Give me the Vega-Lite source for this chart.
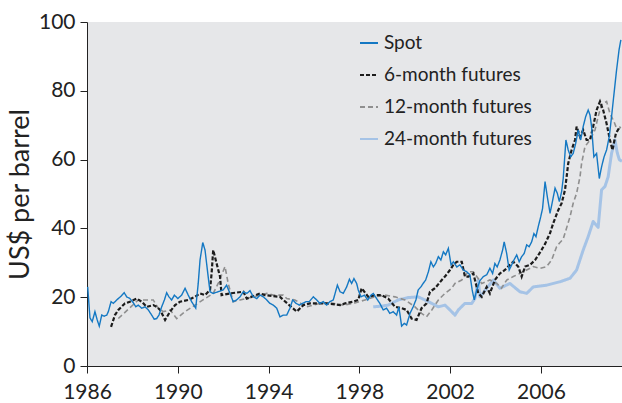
{
  "$schema": "https://vega.github.io/schema/vega-lite/v6.json",
  "width": 535,
  "height": 344,
  "autosize": {"type": "none"},
  "padding": {"left": 87, "top": 22, "right": 0, "bottom": 37},
  "background": "white",
  "config": {
    "view": {"fill": "#e6e7e9", "stroke": null},
    "font": "Lato"
  },
  "datasets": {
    "d24": [
      {"t": 1998.61, "v": 17.2}, {"t": 1998.98, "v": 17.4}, {"t": 1999.27, "v": 17.7}, {"t": 1999.71, "v": 19.2},
      {"t": 2000.15, "v": 19.9}, {"t": 2000.59, "v": 20.1}, {"t": 2000.89, "v": 19.2}, {"t": 2001.19, "v": 18.2},
      {"t": 2001.48, "v": 17.2}, {"t": 2001.77, "v": 17.7}, {"t": 2001.99, "v": 16.3}, {"t": 2002.21, "v": 14.8},
      {"t": 2002.36, "v": 16.3}, {"t": 2002.65, "v": 18.2}, {"t": 2002.95, "v": 18.2}, {"t": 2003.09, "v": 19.6},
      {"t": 2003.24, "v": 25}, {"t": 2003.31, "v": 20.1}, {"t": 2003.61, "v": 22.6}, {"t": 2003.9, "v": 25},
      {"t": 2004.19, "v": 22.6}, {"t": 2004.63, "v": 24}, {"t": 2005.07, "v": 21.6}, {"t": 2005.37, "v": 21.1},
      {"t": 2005.66, "v": 23}, {"t": 2006.25, "v": 23.5}, {"t": 2006.84, "v": 24.5}, {"t": 2007.28, "v": 25.5},
      {"t": 2007.57, "v": 27.9}, {"t": 2007.86, "v": 33.7}, {"t": 2008.08, "v": 37.6}, {"t": 2008.3, "v": 42},
      {"t": 2008.52, "v": 40.3}, {"t": 2008.67, "v": 51.2}, {"t": 2008.82, "v": 52.2}, {"t": 2008.96, "v": 55},
      {"t": 2009.11, "v": 61.8}, {"t": 2009.26, "v": 65.7}, {"t": 2009.36, "v": 62}, {"t": 2009.45, "v": 60},
      {"t": 2009.57, "v": 59.5}
    ],
    "d12": [
      {"t": 1987.38, "v": 13.8}, {"t": 1988.26, "v": 19.2}, {"t": 1988.92, "v": 19.2}, {"t": 1989.14, "v": 16.8},
      {"t": 1989.36, "v": 15.8}, {"t": 1989.66, "v": 16.3}, {"t": 1989.95, "v": 13.8}, {"t": 1990.32, "v": 15.8},
      {"t": 1990.76, "v": 17.7}, {"t": 1991.2, "v": 19.6}, {"t": 1991.56, "v": 21.1}, {"t": 1991.78, "v": 24},
      {"t": 1992.08, "v": 28.9}, {"t": 1992.22, "v": 24}, {"t": 1992.44, "v": 18.7}, {"t": 1992.74, "v": 19.2},
      {"t": 1993.33, "v": 20.1}, {"t": 1993.92, "v": 21.1}, {"t": 1994.21, "v": 20.6}, {"t": 1994.65, "v": 20.6},
      {"t": 1994.8, "v": 19.6}, {"t": 1995.16, "v": 19.2}, {"t": 1995.68, "v": 17.2}, {"t": 1996.26, "v": 18.2},
      {"t": 1996.85, "v": 18.2}, {"t": 1997.29, "v": 17.7}, {"t": 1997.73, "v": 18.2}, {"t": 1998.25, "v": 19.2},
      {"t": 1998.69, "v": 20.1}, {"t": 1999.13, "v": 20.6}, {"t": 1999.57, "v": 20.1}, {"t": 2000.01, "v": 19.2},
      {"t": 2000.45, "v": 17.2}, {"t": 2000.74, "v": 15.3}, {"t": 2000.96, "v": 14.3}, {"t": 2001.19, "v": 16.3},
      {"t": 2001.48, "v": 19.2}, {"t": 2001.77, "v": 21.1}, {"t": 2002.07, "v": 22.6}, {"t": 2002.21, "v": 24},
      {"t": 2002.51, "v": 25}, {"t": 2002.8, "v": 27.4}, {"t": 2003.02, "v": 27.4}, {"t": 2003.17, "v": 26},
      {"t": 2003.39, "v": 24}, {"t": 2003.75, "v": 25}, {"t": 2004.05, "v": 24}, {"t": 2004.26, "v": 22.6},
      {"t": 2004.49, "v": 25}, {"t": 2004.78, "v": 26}, {"t": 2005.07, "v": 26.9}, {"t": 2005.37, "v": 27.9},
      {"t": 2005.66, "v": 28.9}, {"t": 2005.96, "v": 28.4}, {"t": 2006.25, "v": 28.9}, {"t": 2006.47, "v": 30.8},
      {"t": 2006.69, "v": 34.7}, {"t": 2006.81, "v": 35.7}, {"t": 2006.98, "v": 36.9}, {"t": 2007.28, "v": 43.4},
      {"t": 2007.42, "v": 47.3}, {"t": 2007.57, "v": 50.2}, {"t": 2007.72, "v": 55}, {"t": 2007.79, "v": 58.9},
      {"t": 2007.94, "v": 63.8}, {"t": 2008.16, "v": 65.7}, {"t": 2008.38, "v": 68.6}, {"t": 2008.52, "v": 72.5},
      {"t": 2008.67, "v": 76}, {"t": 2008.89, "v": 76.9}, {"t": 2009.04, "v": 73.4}, {"t": 2009.22, "v": 71},
      {"t": 2009.36, "v": 68.6}, {"t": 2009.55, "v": 69.6}
    ],
    "d6": [
      {"t": 1987.06, "v": 11.4}, {"t": 1987.23, "v": 14.8}, {"t": 1987.38, "v": 16.3}, {"t": 1987.67, "v": 18.2},
      {"t": 1987.89, "v": 18.7}, {"t": 1988.19, "v": 19.6}, {"t": 1988.41, "v": 18.7}, {"t": 1988.63, "v": 17.2},
      {"t": 1988.92, "v": 17.7}, {"t": 1989.07, "v": 17.2}, {"t": 1989.22, "v": 16.3}, {"t": 1989.44, "v": 13.4},
      {"t": 1989.66, "v": 15.8}, {"t": 1989.88, "v": 17.7}, {"t": 1990.1, "v": 18.7}, {"t": 1990.46, "v": 19.2},
      {"t": 1990.76, "v": 20.1}, {"t": 1990.98, "v": 21.1}, {"t": 1991.2, "v": 20.6}, {"t": 1991.42, "v": 22.1},
      {"t": 1991.49, "v": 27}, {"t": 1991.56, "v": 33.7}, {"t": 1991.71, "v": 29.8}, {"t": 1991.86, "v": 26},
      {"t": 1991.93, "v": 20.6}, {"t": 1992.3, "v": 21.1}, {"t": 1992.89, "v": 21.6}, {"t": 1993.04, "v": 19.6},
      {"t": 1993.62, "v": 21.1}, {"t": 1993.84, "v": 20.6}, {"t": 1994.5, "v": 20.1}, {"t": 1994.65, "v": 19.2},
      {"t": 1995.24, "v": 15.8}, {"t": 1995.53, "v": 17.7}, {"t": 1995.82, "v": 18.2}, {"t": 1996.56, "v": 18.2},
      {"t": 1997.15, "v": 17.7}, {"t": 1997.37, "v": 18.2}, {"t": 1997.73, "v": 18.7}, {"t": 1997.95, "v": 19.2},
      {"t": 1998.1, "v": 22.6}, {"t": 1998.39, "v": 20.1}, {"t": 1998.69, "v": 20.6}, {"t": 1998.98, "v": 20.6},
      {"t": 1999.27, "v": 19.6}, {"t": 1999.57, "v": 17.2}, {"t": 1999.86, "v": 16.8}, {"t": 2000.08, "v": 16.3},
      {"t": 2000.3, "v": 13.8}, {"t": 2000.52, "v": 13.4}, {"t": 2000.74, "v": 16.8}, {"t": 2000.96, "v": 18.2},
      {"t": 2001.11, "v": 21.6}, {"t": 2001.33, "v": 22.6}, {"t": 2001.63, "v": 25}, {"t": 2001.77, "v": 26},
      {"t": 2001.99, "v": 27.9}, {"t": 2002.14, "v": 29.4}, {"t": 2002.29, "v": 30.3}, {"t": 2002.51, "v": 30.3},
      {"t": 2002.65, "v": 26}, {"t": 2002.8, "v": 26}, {"t": 2003.02, "v": 26.9}, {"t": 2003.24, "v": 21.1},
      {"t": 2003.39, "v": 20.1}, {"t": 2003.61, "v": 23}, {"t": 2003.75, "v": 21.1}, {"t": 2003.97, "v": 25},
      {"t": 2004.19, "v": 26.9}, {"t": 2004.41, "v": 27.9}, {"t": 2004.63, "v": 29.4}, {"t": 2004.78, "v": 30.3},
      {"t": 2005.0, "v": 28.9}, {"t": 2005.15, "v": 26}, {"t": 2005.3, "v": 28.9}, {"t": 2005.52, "v": 29.4},
      {"t": 2005.74, "v": 30.8}, {"t": 2005.96, "v": 33}, {"t": 2006.18, "v": 35.5}, {"t": 2006.4, "v": 38.6},
      {"t": 2006.54, "v": 41.5}, {"t": 2006.76, "v": 45.3}, {"t": 2006.91, "v": 47.3}, {"t": 2007.06, "v": 51.2},
      {"t": 2007.13, "v": 55}, {"t": 2007.2, "v": 58.9}, {"t": 2007.35, "v": 62.8}, {"t": 2007.5, "v": 65.7},
      {"t": 2007.57, "v": 69.6}, {"t": 2007.72, "v": 66.7}, {"t": 2007.86, "v": 68.6}, {"t": 2008.01, "v": 65.7},
      {"t": 2008.16, "v": 65.7}, {"t": 2008.3, "v": 69.6}, {"t": 2008.45, "v": 74.4}, {"t": 2008.6, "v": 76.9},
      {"t": 2008.74, "v": 74.4}, {"t": 2008.89, "v": 70.5}, {"t": 2009.04, "v": 65.7}, {"t": 2009.15, "v": 62.8},
      {"t": 2009.3, "v": 67.6}, {"t": 2009.48, "v": 69.6}
    ],
    "spot": [
      {"t": 1986.03, "v": 23}, {"t": 1986.13, "v": 14}, {"t": 1986.23, "v": 12.9}, {"t": 1986.35, "v": 15.8},
      {"t": 1986.45, "v": 13.4}, {"t": 1986.54, "v": 11.6}, {"t": 1986.65, "v": 14.8}, {"t": 1986.76, "v": 14.5},
      {"t": 1986.87, "v": 14.8}, {"t": 1986.94, "v": 15.8}, {"t": 1987.06, "v": 18.7}, {"t": 1987.16, "v": 18.2},
      {"t": 1987.31, "v": 19.2}, {"t": 1987.5, "v": 20.3}, {"t": 1987.64, "v": 21.3}, {"t": 1987.75, "v": 20.1},
      {"t": 1987.89, "v": 19.6}, {"t": 1988.04, "v": 18.4}, {"t": 1988.15, "v": 17.2}, {"t": 1988.26, "v": 17.7},
      {"t": 1988.41, "v": 16.8}, {"t": 1988.56, "v": 17.2}, {"t": 1988.7, "v": 16.3}, {"t": 1988.85, "v": 14.8},
      {"t": 1988.96, "v": 13.6}, {"t": 1989.07, "v": 13.8}, {"t": 1989.17, "v": 14.8}, {"t": 1989.29, "v": 17.2},
      {"t": 1989.41, "v": 19.2}, {"t": 1989.51, "v": 21.3}, {"t": 1989.61, "v": 20.1}, {"t": 1989.73, "v": 19.2},
      {"t": 1989.85, "v": 20.6}, {"t": 1990.0, "v": 19.6}, {"t": 1990.17, "v": 20.6}, {"t": 1990.32, "v": 22.6},
      {"t": 1990.46, "v": 20.6}, {"t": 1990.61, "v": 18.7}, {"t": 1990.79, "v": 16.8}, {"t": 1990.9, "v": 24},
      {"t": 1990.98, "v": 30.8}, {"t": 1991.1, "v": 35.9}, {"t": 1991.2, "v": 33.7}, {"t": 1991.32, "v": 27},
      {"t": 1991.42, "v": 21.6}, {"t": 1991.56, "v": 21.1}, {"t": 1991.78, "v": 21.6}, {"t": 1992.0, "v": 22.1},
      {"t": 1992.15, "v": 23.5}, {"t": 1992.3, "v": 21.1}, {"t": 1992.44, "v": 18.7}, {"t": 1992.59, "v": 19.2},
      {"t": 1992.74, "v": 20.1}, {"t": 1992.89, "v": 21.6}, {"t": 1993.04, "v": 21.1}, {"t": 1993.18, "v": 21.9},
      {"t": 1993.33, "v": 20.1}, {"t": 1993.48, "v": 19.6}, {"t": 1993.62, "v": 20.6}, {"t": 1993.77, "v": 20.1},
      {"t": 1993.92, "v": 19.2}, {"t": 1994.06, "v": 18.2}, {"t": 1994.21, "v": 17.7}, {"t": 1994.36, "v": 16.8},
      {"t": 1994.5, "v": 14.3}, {"t": 1994.65, "v": 14.8}, {"t": 1994.8, "v": 14.8}, {"t": 1994.94, "v": 16.8},
      {"t": 1995.06, "v": 19.2}, {"t": 1995.21, "v": 18.2}, {"t": 1995.35, "v": 17.7}, {"t": 1995.5, "v": 18.2},
      {"t": 1995.65, "v": 18.7}, {"t": 1995.79, "v": 18.7}, {"t": 1995.97, "v": 20.1}, {"t": 1996.12, "v": 19.2},
      {"t": 1996.26, "v": 18.2}, {"t": 1996.41, "v": 18.7}, {"t": 1996.56, "v": 17.7}, {"t": 1996.7, "v": 18.7},
      {"t": 1996.85, "v": 19.2}, {"t": 1996.93, "v": 21.1}, {"t": 1997.03, "v": 23.5}, {"t": 1997.15, "v": 21.6},
      {"t": 1997.29, "v": 21.1}, {"t": 1997.44, "v": 23}, {"t": 1997.56, "v": 25.2}, {"t": 1997.66, "v": 24},
      {"t": 1997.76, "v": 25.4}, {"t": 1997.88, "v": 24}, {"t": 1997.95, "v": 22.1}, {"t": 1998.07, "v": 20.1},
      {"t": 1998.22, "v": 20.6}, {"t": 1998.37, "v": 19.2}, {"t": 1998.51, "v": 20.6}, {"t": 1998.61, "v": 21.1},
      {"t": 1998.76, "v": 19.6}, {"t": 1998.9, "v": 18.2}, {"t": 1999.05, "v": 16.3}, {"t": 1999.2, "v": 16.8},
      {"t": 1999.34, "v": 15.3}, {"t": 1999.49, "v": 15.8}, {"t": 1999.64, "v": 14.8}, {"t": 1999.74, "v": 17.2},
      {"t": 1999.86, "v": 11.6}, {"t": 1999.98, "v": 12.4}, {"t": 2000.08, "v": 11.9}, {"t": 2000.23, "v": 15.3},
      {"t": 2000.37, "v": 17.2}, {"t": 2000.49, "v": 19.2}, {"t": 2000.59, "v": 22.1}, {"t": 2000.71, "v": 23},
      {"t": 2000.81, "v": 24}, {"t": 2000.92, "v": 25}, {"t": 2001.04, "v": 27.4}, {"t": 2001.15, "v": 30.3},
      {"t": 2001.26, "v": 28.8}, {"t": 2001.36, "v": 29.8}, {"t": 2001.48, "v": 31.8}, {"t": 2001.59, "v": 30.8},
      {"t": 2001.7, "v": 33.2}, {"t": 2001.8, "v": 32.3}, {"t": 2001.92, "v": 34.2}, {"t": 2002.04, "v": 29.4},
      {"t": 2002.14, "v": 30.3}, {"t": 2002.29, "v": 28.8}, {"t": 2002.43, "v": 29.4}, {"t": 2002.58, "v": 27.9},
      {"t": 2002.73, "v": 27.4}, {"t": 2002.87, "v": 26.5}, {"t": 2002.97, "v": 22.1}, {"t": 2003.06, "v": 19.2},
      {"t": 2003.17, "v": 22.1}, {"t": 2003.31, "v": 24.8}, {"t": 2003.46, "v": 26}, {"t": 2003.61, "v": 26.5},
      {"t": 2003.75, "v": 28.4}, {"t": 2003.87, "v": 26.9}, {"t": 2003.97, "v": 29.8}, {"t": 2004.07, "v": 28.8},
      {"t": 2004.19, "v": 30.8}, {"t": 2004.31, "v": 33.7}, {"t": 2004.38, "v": 36.1}, {"t": 2004.49, "v": 32.7},
      {"t": 2004.6, "v": 27.9}, {"t": 2004.71, "v": 29.4}, {"t": 2004.81, "v": 30.8}, {"t": 2004.93, "v": 32.3},
      {"t": 2005.04, "v": 30.3}, {"t": 2005.15, "v": 31.8}, {"t": 2005.26, "v": 32.7}, {"t": 2005.37, "v": 35.2},
      {"t": 2005.48, "v": 34.7}, {"t": 2005.59, "v": 36.1}, {"t": 2005.69, "v": 38.5}, {"t": 2005.78, "v": 37.6},
      {"t": 2005.88, "v": 40.5}, {"t": 2005.99, "v": 43.4}, {"t": 2006.07, "v": 45.8}, {"t": 2006.18, "v": 53.6},
      {"t": 2006.28, "v": 49.2}, {"t": 2006.4, "v": 44.4}, {"t": 2006.52, "v": 48.3}, {"t": 2006.62, "v": 51.7},
      {"t": 2006.72, "v": 50.2}, {"t": 2006.81, "v": 47.8}, {"t": 2006.91, "v": 50.7}, {"t": 2006.98, "v": 54.5},
      {"t": 2007.1, "v": 65.7}, {"t": 2007.2, "v": 62.8}, {"t": 2007.31, "v": 60.8}, {"t": 2007.42, "v": 61.8},
      {"t": 2007.53, "v": 64.7}, {"t": 2007.64, "v": 68.6}, {"t": 2007.75, "v": 65.7}, {"t": 2007.86, "v": 69.6},
      {"t": 2007.97, "v": 72.5}, {"t": 2008.08, "v": 74.4}, {"t": 2008.16, "v": 73}, {"t": 2008.23, "v": 69.6},
      {"t": 2008.33, "v": 60.8}, {"t": 2008.45, "v": 61.8}, {"t": 2008.57, "v": 54.5}, {"t": 2008.67, "v": 57.9},
      {"t": 2008.78, "v": 60.8}, {"t": 2008.89, "v": 62.8}, {"t": 2009.01, "v": 66.7}, {"t": 2009.11, "v": 72.5},
      {"t": 2009.22, "v": 79.3}, {"t": 2009.33, "v": 86}, {"t": 2009.44, "v": 91.9}, {"t": 2009.52, "v": 94.8}
    ]
  },
  "layer": [
    {
      "data": {"name": "d24"},
      "transform": [{"calculate": "'24-month futures'", "as": "series"}],
      "mark": {"type": "line", "strokeWidth": 3, "strokeJoin": "round", "clip": true},
      "encoding": {
        "x": {"field": "t", "type": "quantitative"},
        "y": {"field": "v", "type": "quantitative"},
        "color": {"field": "series", "type": "nominal"},
        "strokeDash": {"field": "series", "type": "nominal"}
      }
    },
    {
      "data": {"name": "d12"},
      "transform": [{"calculate": "'12-month futures'", "as": "series"}],
      "mark": {"type": "line", "strokeWidth": 1.6, "clip": true},
      "encoding": {
        "x": {"field": "t", "type": "quantitative"},
        "y": {"field": "v", "type": "quantitative"},
        "color": {"field": "series", "type": "nominal"},
        "strokeDash": {"field": "series", "type": "nominal"}
      }
    },
    {
      "data": {"name": "d6"},
      "transform": [{"calculate": "'6-month futures'", "as": "series"}],
      "mark": {"type": "line", "strokeWidth": 2.2, "clip": true},
      "encoding": {
        "x": {"field": "t", "type": "quantitative"},
        "y": {"field": "v", "type": "quantitative"},
        "color": {"field": "series", "type": "nominal"},
        "strokeDash": {"field": "series", "type": "nominal"}
      }
    },
    {
      "data": {"name": "spot"},
      "transform": [{"calculate": "'Spot'", "as": "series"}],
      "mark": {"type": "line", "strokeWidth": 1.4, "clip": true},
      "encoding": {
        "x": {
          "field": "t", "type": "quantitative",
          "scale": {"domain": [1986, 2009.57], "nice": false, "zero": false},
          "axis": {
            "values": [1986, 1990, 1994, 1998, 2002, 2006], "format": "d", "title": null,
            "grid": false, "labelFontSize": 21, "labelColor": "#222", "labelPadding": 8,
            "tickSize": 7, "tickColor": "#222", "domainColor": "#222", "labelFlush": false
          }
        },
        "y": {
          "field": "v", "type": "quantitative",
          "scale": {"domain": [0, 100], "nice": false},
          "axis": {
            "values": [0, 20, 40, 60, 80, 100], "title": "US$ per barrel",
            "grid": false, "labelFontSize": 21, "labelColor": "#222", "labelPadding": 5,
            "tickSize": 7, "tickColor": "#222", "domainColor": "#222",
            "titleFontSize": 27, "titleFontWeight": "normal", "titleColor": "#222", "titlePadding": 4
          }
        },
        "color": {
          "field": "series", "type": "nominal",
          "scale": {
            "domain": ["Spot", "6-month futures", "12-month futures", "24-month futures"],
            "range": ["#1478c3", "#1c1c1c", "#8f8f8f", "#a5c3e6"]
          },
          "legend": {
            "title": null, "orient": "none", "legendX": 272, "legendY": 11,
            "symbolType": "stroke", "symbolSize": 324, "symbolStrokeWidth": 2,
            "labelFontSize": 19, "labelColor": "#222", "rowPadding": 12, "labelOffset": 5
          }
        },
        "strokeDash": {
          "field": "series", "type": "nominal",
          "scale": {
            "domain": ["Spot", "6-month futures", "12-month futures", "24-month futures"],
            "range": [[1, 0], [4, 2], [5, 3], [1, 0]]
          },
          "legend": null
        }
      }
    }
  ]
}
